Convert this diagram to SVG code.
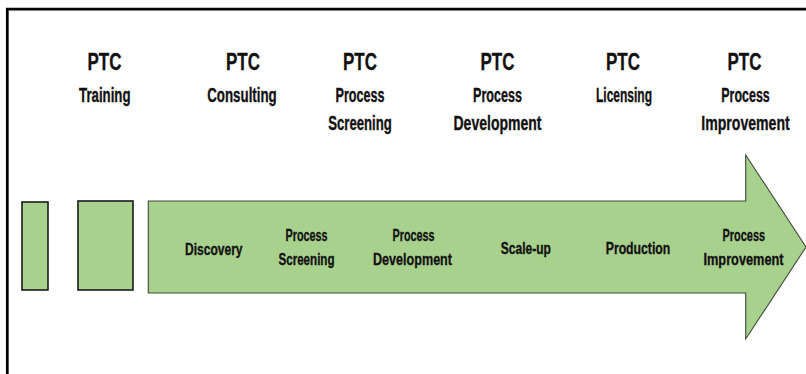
<svg xmlns="http://www.w3.org/2000/svg" width="806" height="374" viewBox="0 0 806 374">
  <style>
    text { font-family: "Liberation Sans", Arial, sans-serif; font-weight: bold; fill: #111111; stroke: #111111; stroke-width: 0.35; text-anchor: middle; }
    .ptc { font-size: 24px; }
    .hd { font-size: 20px; }
    .lb { font-size: 17px; }
    .frame { fill: none; stroke: #000000; stroke-width: 2.7; }
    .box { fill: #A9D18E; stroke: #1a1a1a; stroke-width: 1.6; }
    .arrow { fill: #A9D18E; stroke: #3f4a38; stroke-width: 1.1; stroke-linejoin: miter; }
  </style>

  <rect width="806" height="374" fill="#ffffff"/>

  <!-- outer frame: only the top and left edges are visible -->
  <g id="frame">
    <path class="frame" d="M7.3 374 V9.2 H806"/>
  </g>

  <!-- service headings -->
  <g id="svc-training">
    <text class="ptc" x="104.5" y="69.5" textLength="34" lengthAdjust="spacingAndGlyphs">PTC</text>
    <text class="hd" x="104.8" y="101.5" textLength="51.5" lengthAdjust="spacingAndGlyphs">Training</text>
  </g>
  <g id="svc-consulting">
    <text class="ptc" x="243" y="69.5" textLength="34" lengthAdjust="spacingAndGlyphs">PTC</text>
    <text class="hd" x="242" y="101.5" textLength="69.5" lengthAdjust="spacingAndGlyphs">Consulting</text>
  </g>
  <g id="svc-screening">
    <text class="ptc" x="360" y="69.5" textLength="34" lengthAdjust="spacingAndGlyphs">PTC</text>
    <text class="hd" x="360" y="101.5" textLength="49" lengthAdjust="spacingAndGlyphs">Process</text>
    <text class="hd" x="360" y="130" textLength="63.5" lengthAdjust="spacingAndGlyphs">Screening</text>
  </g>
  <g id="svc-development">
    <text class="ptc" x="497.5" y="69.5" textLength="34" lengthAdjust="spacingAndGlyphs">PTC</text>
    <text class="hd" x="497.5" y="101.5" textLength="49" lengthAdjust="spacingAndGlyphs">Process</text>
    <text class="hd" x="497.5" y="130" textLength="88" lengthAdjust="spacingAndGlyphs">Development</text>
  </g>
  <g id="svc-licensing">
    <text class="ptc" x="623" y="69.5" textLength="34" lengthAdjust="spacingAndGlyphs">PTC</text>
    <text class="hd" x="624" y="101.5" textLength="56" lengthAdjust="spacingAndGlyphs">Licensing</text>
  </g>
  <g id="svc-improvement">
    <text class="ptc" x="744.5" y="69.5" textLength="34" lengthAdjust="spacingAndGlyphs">PTC</text>
    <text class="hd" x="745.5" y="101.5" textLength="48.5" lengthAdjust="spacingAndGlyphs">Process</text>
    <!-- narrowed by scaling so the glyph box itself stays inside the frame -->
    <text class="hd" transform="translate(745.5 130) scale(0.705 1)">Improvement</text>
  </g>

  <!-- small lead-in blocks -->
  <g id="block-1">
    <rect class="box" x="22" y="202" width="26" height="88"/>
  </g>
  <g id="block-2">
    <rect class="box" x="78" y="201" width="55" height="89"/>
  </g>

  <!-- main stage arrow -->
  <g id="stage-arrow">
    <path class="arrow" d="M148.3 201 H745.7 V155 L806 247 L745.7 339 V293 H148.3 Z"/>
    <text class="lb" x="213.8" y="254.5" textLength="57.5" lengthAdjust="spacingAndGlyphs">Discovery</text>
    <text class="lb" x="306.5" y="240.5" textLength="42" lengthAdjust="spacingAndGlyphs">Process</text>
    <text class="lb" x="306.5" y="265" textLength="56" lengthAdjust="spacingAndGlyphs">Screening</text>
    <text class="lb" x="413.5" y="240.5" textLength="42" lengthAdjust="spacingAndGlyphs">Process</text>
    <text class="lb" x="412.5" y="265" textLength="79" lengthAdjust="spacingAndGlyphs">Development</text>
    <text class="lb" x="525.8" y="253.5" textLength="50" lengthAdjust="spacingAndGlyphs">Scale-up</text>
    <text class="lb" x="638" y="253.5" textLength="64.5" lengthAdjust="spacingAndGlyphs">Production</text>
    <text class="lb" x="743.8" y="240.5" textLength="42.5" lengthAdjust="spacingAndGlyphs">Process</text>
    <text class="lb" transform="translate(743.5 265) scale(0.75 1)">Improvement</text>
  </g>
</svg>
